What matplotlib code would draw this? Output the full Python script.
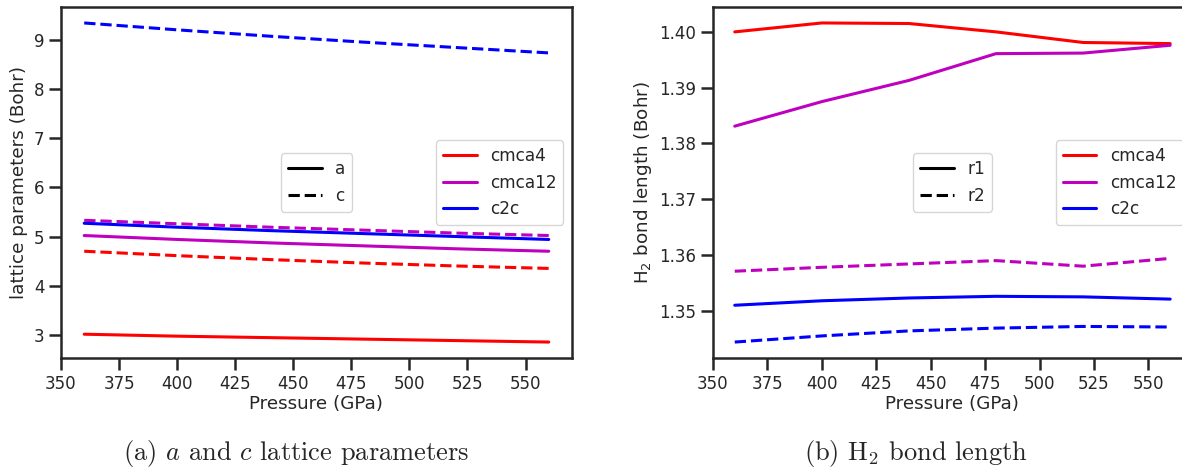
import numpy as np
import matplotlib
matplotlib.use("Agg")
import matplotlib.pyplot as plt
import seaborn as sns
from matplotlib.lines import Line2D

sns.set_style("ticks")
plt.rcParams['font.family'] = ['DejaVu Sans']

# pressures (GPa)
pressure = [360, 400, 440, 480, 520, 560]

# lattice parameters (Bohr)
cmca4_a = [3.01, 2.97, 2.94, 2.91, 2.88, 2.85]
cmca4_c = [4.70, 4.61, 4.53, 4.46, 4.40, 4.35]
cmca12_a = [5.02, 4.94, 4.87, 4.81, 4.75, 4.70]
cmca12_c = [5.33, 5.26, 5.19, 5.13, 5.07, 5.02]
c2c_a = [5.27, 5.19, 5.12, 5.06, 5.00, 4.94]
c2c_c = [9.35, 9.21, 9.08, 8.96, 8.85, 8.74]

# H2 bond lengths (Bohr)
cmca4_r1 = [1.4000, 1.4016, 1.4015, 1.4000, 1.3981, 1.3979]
cmca12_r1 = [1.3831, 1.3875, 1.3913, 1.3961, 1.3962, 1.3976]
cmca12_r2 = [1.3571, 1.3578, 1.3584, 1.3590, 1.3580, 1.3594]
c2c_r1 = [1.3510, 1.3518, 1.3523, 1.3526, 1.3525, 1.3521]
c2c_r2 = [1.3444, 1.3455, 1.3464, 1.3469, 1.3472, 1.3471]

structs = ['cmca4', 'cmca12', 'c2c']
colors = ['r', 'm', 'b']

fig = plt.figure(figsize=(11.82, 4.73), dpi=100)
ax1 = fig.add_axes([0.0516, 0.2431, 0.4323, 0.7421])
ax2 = fig.add_axes([0.6032, 0.2431, 0.4052, 0.7421])

lw = 2.2
dark = '#262626'

# (a) lattice parameters
ax1.plot(pressure, cmca4_a, 'r-', lw=lw)
ax1.plot(pressure, cmca4_c, 'r--', lw=lw)
ax1.plot(pressure, cmca12_a, 'm-', lw=lw)
ax1.plot(pressure, cmca12_c, 'm--', lw=lw)
ax1.plot(pressure, c2c_a, 'b-', lw=lw)
ax1.plot(pressure, c2c_c, 'b--', lw=lw)

# (b) bond length
ax2.plot(pressure, cmca4_r1, 'r-', lw=lw)
ax2.plot(pressure, cmca12_r1, 'm-', lw=lw)
ax2.plot(pressure, cmca12_r2, 'm--', lw=lw)
ax2.plot(pressure, c2c_r1, 'b-', lw=lw)
ax2.plot(pressure, c2c_r2, 'b--', lw=lw)

ax1.set_ylabel('lattice parameters (Bohr)', fontsize=13.2, color=dark)
ax2.set_ylabel('H$_2$ bond length (Bohr)', fontsize=13.2, color=dark)
ax2.set_yticks([1.35, 1.36, 1.37, 1.38, 1.39, 1.40])
ax2.set_yticklabels(['1.35', '1.36', '1.37', '1.38', '1.39', '1.40'])

for ax, styles in [(ax1, ['a', 'c']), (ax2, ['r1', 'r2'])]:
    ax.set_xticks(np.arange(350, 551, 25))
    ax.set_xlabel('Pressure (GPa)', fontsize=13.2, color=dark, labelpad=2)
    ax.tick_params(labelsize=12, length=8.4, width=1.8, colors=dark)
    for sp in ax.spines.values():
        sp.set_linewidth(1.8)
        sp.set_color(dark)
    # line style legend
    h_style = [Line2D([], [], color='k', ls='-', lw=lw),
               Line2D([], [], color='k', ls='--', lw=lw)]
    leg1 = ax.legend(h_style, styles, loc='center', fontsize=12.2)
    ax.add_artist(leg1)
    # colour legend
    h_col = [Line2D([], [], color=c, ls='-', lw=lw) for c in colors]
    ax.legend(h_col, structs, loc='center right', fontsize=12.2)

fig.text(0.2504, 0.027, '(a) $a$ and $c$ lattice parameters', ha='center',
         va='baseline', fontsize=19, family='cmr10', math_fontfamily='cm')
fig.text(0.775, 0.027, r'(b) $\mathrm{H}_2$ bond length', ha='center',
         va='baseline', fontsize=19, family='cmr10', math_fontfamily='cm')

plt.savefig('out.png', dpi=100)
